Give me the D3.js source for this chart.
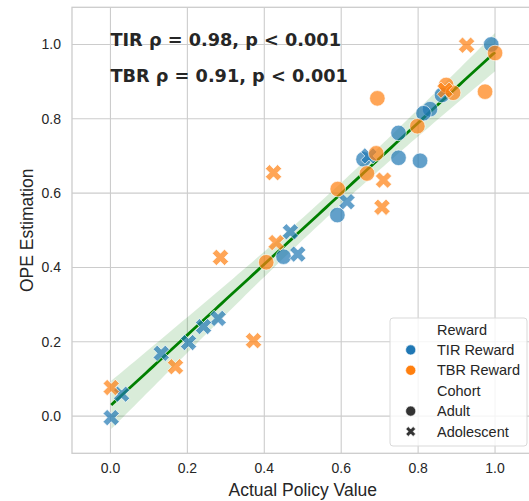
<!DOCTYPE html>
<html>
<head>
<meta charset="utf-8">
<script src="https://cdn.jsdelivr.net/npm/d3@7"></script>
<style>
  body { margin: 0; background: #fff; }
  text { fill: #262626; }
</style>
</head>
<body>
<svg id="chart" width="529" height="501"></svg>
<script>
// points: [actual policy value, OPE estimation]
const tirAdult = [
    [0.99, 1.00], [0.862, 0.864], [0.831, 0.826], [0.814, 0.815], [0.749, 0.762],
    [0.749, 0.695], [0.805, 0.687], [0.658, 0.691], [0.590, 0.541], [0.450, 0.429]
];
const tirAdolescent = [
    [0.672, 0.700], [0.615, 0.577], [0.468, 0.496], [0.487, 0.436], [0.280, 0.263],
    [0.242, 0.241], [0.203, 0.198], [0.132, 0.169], [0.029, 0.059], [0.002, -0.004]
];
const tbrAdult = [
    [1.00, 0.977], [0.974, 0.873], [0.873, 0.891], [0.891, 0.870], [0.798, 0.780],
    [0.694, 0.855], [0.691, 0.707], [0.667, 0.653], [0.591, 0.611], [0.405, 0.414]
];
const tbrAdolescent = [
    [0.926, 0.998], [0.870, 0.877], [0.710, 0.635], [0.706, 0.562], [0.424, 0.655],
    [0.431, 0.467], [0.286, 0.427], [0.372, 0.203], [0.169, 0.133], [0.002, 0.077]
];
const ticks = [0.0, 0.2, 0.4, 0.6, 0.8, 1.0];
const annotations = ["TIR \u03c1 = 0.98, p < 0.001", "TBR \u03c1 = 0.91, p < 0.001"];

const colors = { tir: "#1f77b4", tbr: "#ff7f0e" };

const svg = d3.select("#chart");
const margin = { left: 72, top: 7.3, right: 533.5, bottom: 453.3 };

const x = d3.scaleLinear().domain([-0.1, 1.1]).range([margin.left, margin.right]);
const y = d3.scaleLinear().domain([-0.1, 1.1]).range([margin.bottom, margin.top]);

// grid
const grid = svg.append("g");
grid.selectAll(".gx").data(ticks).enter().append("line")
    .attr("x1", d => x(d)).attr("x2", d => x(d))
    .attr("y1", margin.top).attr("y2", margin.bottom)
    .attr("stroke", "#cccccc").attr("stroke-width", 1.1);
grid.selectAll(".gy").data(ticks).enter().append("line")
    .attr("y1", d => y(d)).attr("y2", d => y(d))
    .attr("x1", margin.left).attr("x2", margin.right)
    .attr("stroke", "#cccccc").attr("stroke-width", 1.1);

// frame
svg.append("rect")
    .attr("x", margin.left).attr("y", margin.top)
    .attr("width", margin.right - margin.left).attr("height", margin.bottom - margin.top)
    .attr("fill", "none").attr("stroke", "#cccccc").attr("stroke-width", 1.3);

// tick labels
svg.selectAll(".tx").data(ticks).enter().append("text")
    .attr("x", d => x(d)).attr("y", 473)
    .attr("text-anchor", "middle")
    .style("font", "14px 'Liberation Sans', Arial, sans-serif")
    .text(d => d.toFixed(1));
svg.selectAll(".ty").data(ticks).enter().append("text")
    .attr("x", 61).attr("y", d => y(d) + 5)
    .attr("text-anchor", "end")
    .style("font", "14px 'Liberation Sans', Arial, sans-serif")
    .text(d => d.toFixed(1));

// axis titles
svg.append("text")
    .attr("x", (margin.left + margin.right) / 2).attr("y", 496)
    .attr("text-anchor", "middle")
    .style("font", "17.5px 'Liberation Sans', Arial, sans-serif")
    .text("Actual Policy Value");
svg.append("text")
    .attr("transform", "translate(33," + ((margin.top + margin.bottom) / 2) + ") rotate(-90)")
    .attr("text-anchor", "middle")
    .style("font", "17.5px 'Liberation Sans', Arial, sans-serif")
    .text("OPE Estimation");

// linear fit with 95% band over all points
const all = tirAdult.concat(tirAdolescent, tbrAdult, tbrAdolescent);
const n = all.length;
const mx = d3.mean(all, d => d[0]);
const my = d3.mean(all, d => d[1]);
const sxx = d3.sum(all, d => (d[0] - mx) ** 2);
const sxy = d3.sum(all, d => (d[0] - mx) * (d[1] - my));
const slope = sxy / sxx;
const icpt = my - slope * mx;
const s = Math.sqrt(d3.sum(all, d => (d[1] - (icpt + slope * d[0])) ** 2) / (n - 2));
const xmin = d3.min(all, d => d[0]), xmax = d3.max(all, d => d[0]);
const xs = d3.range(0, 101).map(i => xmin + i / 100 * (xmax - xmin));
const band = xs.map(v => {
    const yh = icpt + slope * v;
    const h = 2.5 * s * Math.sqrt(1 / n + (v - mx) ** 2 / sxx);
    return { x: v, y: yh, lo: yh - h, hi: yh + h };
});
svg.append("path").datum(band)
    .attr("d", d3.area().x(d => x(d.x)).y0(d => y(d.lo)).y1(d => y(d.hi)))
    .attr("fill", "green").attr("fill-opacity", 0.15);
svg.append("path").datum(band)
    .attr("d", d3.line().x(d => x(d.x)).y(d => y(d.y)))
    .attr("fill", "none").attr("stroke", "green").attr("stroke-width", 2.8);

// points
const circle = d3.symbol().type(d3.symbolCircle).size(190);
const cross = d3.symbol().type(d3.symbolCross).size(165);

function drawPoints(data, sym, color, rotate) {
    svg.append("g").selectAll("path").data(data).enter().append("path")
        .attr("d", sym)
        .attr("transform", d => "translate(" + x(d[0]) + "," + y(d[1]) + ")" + (rotate ? " rotate(45)" : ""))
        .attr("fill", color).attr("fill-opacity", 0.7)
        .attr("stroke", "#fff").attr("stroke-opacity", 0.7).attr("stroke-width", 0.9);
}
drawPoints(tirAdult, circle, colors.tir, false);
drawPoints(tirAdolescent, cross, colors.tir, true);
drawPoints(tbrAdult, circle, colors.tbr, false);
drawPoints(tbrAdolescent, cross, colors.tbr, true);

// annotations
svg.selectAll(".ann").data(annotations).enter().append("text")
    .attr("x", x(0)).attr("y", (d, i) => 45.5 + i * 36.5)
    .style("font", "bold 17.7px 'DejaVu Sans', sans-serif")
    .text(d => d);

// legend
const lg = svg.append("g").attr("transform", "translate(390,318)");
lg.append("rect")
    .attr("width", 137).attr("height", 128).attr("rx", 3)
    .attr("fill", "#fff").attr("fill-opacity", 0.8)
    .attr("stroke", "#d9d9d9");
const legendItems = [
    { label: "Reward", sym: null },
    { label: "TIR Reward", sym: "circle", color: colors.tir },
    { label: "TBR Reward", sym: "circle", color: colors.tbr },
    { label: "Cohort", sym: null },
    { label: "Adult", sym: "circle", color: "#333333" },
    { label: "Adolescent", sym: "cross", color: "#333333" }
];
const li = lg.selectAll(".li").data(legendItems).enter().append("g")
    .attr("transform", (d, i) => "translate(0," + (11.5 + i * 20.4) + ")");
li.append("text")
    .attr("x", 47).attr("y", 5)
    .style("font", "14.5px 'Liberation Sans', Arial, sans-serif")
    .text(d => d.label);
li.filter(d => d.sym === "circle").append("path")
    .attr("d", d3.symbol().type(d3.symbolCircle).size(80))
    .attr("transform", "translate(20.7,0)")
    .attr("fill", d => d.color).attr("stroke", "#fff").attr("stroke-width", 0.6);
li.filter(d => d.sym === "cross").append("path")
    .attr("d", d3.symbol().type(d3.symbolCross).size(60))
    .attr("transform", "translate(20.7,0) rotate(45)")
    .attr("fill", d => d.color).attr("stroke", "#fff").attr("stroke-width", 0.6);
</script>
</body>
</html>
